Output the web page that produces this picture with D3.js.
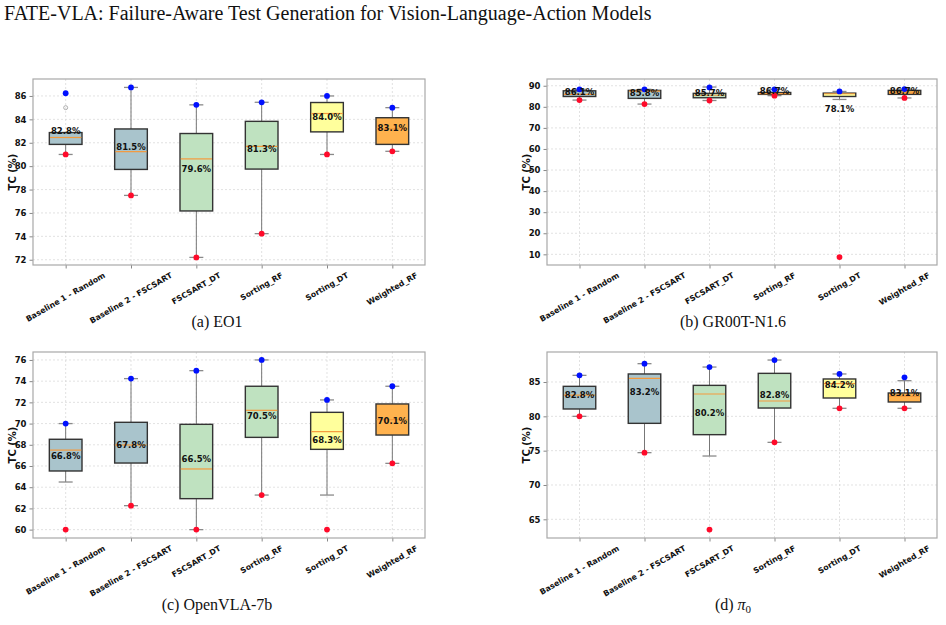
<!DOCTYPE html>
<html>
<head>
<meta charset="utf-8">
<script src="https://cdn.jsdelivr.net/npm/d3@7"></script>
<style>
  body { margin: 0; background: #fff; }
</style>
</head>
<body>
<script>
// categories shared by all four panels
const categories = ["Baseline 1 - Random", "Baseline 2 - FSCSART", "FSCSART_DT", "Sorting_RF", "Sorting_DT", "Weighted_RF"];
const boxColors = ["#a9c4cc", "#a9c4cc", "#bfe2c0", "#bfe2c0", "#ffff9c", "#ffb24e"];

// (a) EO1
const eo1Q1 = [81.86, 79.72, 76.17, 79.75, 82.93, 81.86];
const eo1Med = [82.45, 81.24, 80.62, 81.69, 84.5, 83.2];
const eo1Q3 = [82.87, 83.18, 82.79, 83.83, 85.44, 84.14];
const eo1Lo = [81.0, 77.5, 72.2, 74.23, 81.0, 81.27];
const eo1Hi = [82.87, 86.73, 85.24, 85.46, 86.0, 85.0];
const eo1Mean = [82.8, 81.5, 79.6, 81.3, 84.0, 83.1];
const eo1Max = [86.23, 86.73, 85.24, 85.46, 86.0, 85.0];
const eo1Min = [81.0, 77.5, 72.2, 74.23, 81.0, 81.27];
const eo1Fliers = [[85.0], [], [], [], [], []];
const eo1Ticks = [72, 74, 76, 78, 80, 82, 84, 86];

// (b) GR00T-N1.6
const grootQ1 = [84.9, 84.0, 84.3, 85.9, 84.9, 85.9];
const grootMed = [85.9, 87.4, 85.5, 86.3, 86.2, 86.6];
const grootQ3 = [87.6, 87.8, 86.4, 86.8, 86.5, 87.8];
const grootLo = [83.2, 81.3, 83.0, 85.3, 83.5, 84.2];
const grootHi = [88.3, 88.3, 89.4, 88.3, 87.3, 88.4];
const grootMean = [86.1, 85.8, 85.7, 86.7, 78.1, 86.7];
const grootMax = [88.3, 88.3, 89.2, 88.3, 87.3, 88.4];
const grootMin = [83.2, 81.3, 83.0, 85.3, 8.7, 84.2];
const grootFliers = [[], [], [], [], [], []];
const grootTicks = [10, 20, 30, 40, 50, 60, 70, 80, 90];

// (c) OpenVLA-7b
const vlaQ1 = [65.53, 66.28, 62.92, 68.7, 67.57, 68.92];
const vlaMed = [67.5, 67.98, 65.72, 71.25, 69.24, 70.37];
const vlaQ3 = [68.52, 70.12, 69.93, 73.52, 71.06, 71.85];
const vlaLo = [64.49, 62.26, 60.0, 63.26, 63.26, 66.25];
const vlaHi = [70.0, 74.24, 74.99, 76.0, 72.23, 73.52];
const vlaMean = [66.8, 67.8, 66.5, 70.5, 68.3, 70.1];
const vlaMax = [70.0, 74.24, 74.99, 76.0, 72.23, 73.52];
const vlaMin = [60.0, 62.26, 60.0, 63.26, 60.0, 66.25];
const vlaFliers = [[], [], [], [], [], []];
const vlaTicks = [60, 62, 64, 66, 68, 70, 72, 74, 76];

// (d) pi_0
const pi0Q1 = [81.07, 78.98, 77.33, 81.21, 82.67, 82.09];
const pi0Med = [83.1, 85.53, 83.25, 82.23, 84.76, 82.91];
const pi0Q3 = [84.37, 86.17, 84.51, 86.26, 85.44, 83.4];
const pi0Lo = [80.0, 74.71, 74.22, 76.21, 81.17, 81.17];
const pi0Hi = [85.97, 87.67, 87.18, 88.2, 86.17, 85.19];
const pi0Mean = [82.8, 83.2, 80.2, 82.8, 84.2, 83.1];
const pi0Max = [85.97, 87.67, 87.18, 88.2, 86.17, 85.68];
const pi0Min = [80.0, 74.71, 63.5, 76.21, 81.17, 81.17];
const pi0Fliers = [[], [], [], [], [], []];
const pi0Ticks = [65, 70, 75, 80, 85];

const width = 946, height = 625;

const svg = d3.select("body").append("svg")
    .attr("width", width)
    .attr("height", height)
    .attr("viewBox", [0, 0, width, height])
    .style("font-family", "'DejaVu Sans', sans-serif");

svg.append("text")
    .attr("x", 4)
    .attr("y", 20)
    .style("font-family", "'Liberation Serif', serif")
    .style("font-size", "20px")
    .attr("fill", "#111")
    .text("FATE-VLA: Failure-Aware Test Generation for Vision-Language-Action Models");

function drawPanel(opts) {
  const { left, right, top, bottom, domain, ticks } = opts;
  const rows = categories.map((c, i) => ({
    cat: c, color: boxColors[i],
    q1: opts.q1[i], med: opts.med[i], q3: opts.q3[i],
    lo: opts.lo[i], hi: opts.hi[i], mean: opts.mean[i],
    max: opts.max[i], min: opts.min[i], fliers: opts.fliers[i]
  }));

  const x = d3.scalePoint().domain(categories).range([left, right]).padding(0.5);
  const y = d3.scaleLinear().domain(domain).range([bottom, top]);
  const boxW = x.step() * 0.5;
  const capW = 14;

  const g = svg.append("g");

  // grid
  g.append("g")
      .selectAll("line")
      .data(ticks)
      .join("line")
      .attr("x1", left).attr("x2", right)
      .attr("y1", d => y(d)).attr("y2", d => y(d))
      .attr("stroke", "#d6d6d6").attr("stroke-width", 0.7)
      .attr("stroke-dasharray", "2,2");
  g.append("g")
      .selectAll("line")
      .data(categories)
      .join("line")
      .attr("x1", d => x(d)).attr("x2", d => x(d))
      .attr("y1", top).attr("y2", bottom)
      .attr("stroke", "#d6d6d6").attr("stroke-width", 0.7)
      .attr("stroke-dasharray", "2,2");

  // y axis
  g.append("g")
      .attr("transform", `translate(${left},0)`)
      .call(d3.axisLeft(y).tickValues(ticks).tickSize(3.5).tickPadding(3).tickFormat(d3.format("d")))
      .call(a => a.select(".domain").remove())
      .call(a => a.selectAll(".tick line").attr("stroke", "#888"))
      .call(a => a.selectAll("text")
          .style("font-size", "8.5px").style("font-weight", "bold")
          .style("font-family", "'DejaVu Sans', sans-serif").attr("fill", "#111"));

  // x axis ticks only
  g.append("g")
      .attr("transform", `translate(0,${bottom})`)
      .call(d3.axisBottom(x).tickSize(3.5).tickFormat(""))
      .call(a => a.select(".domain").remove())
      .call(a => a.selectAll(".tick line").attr("stroke", "#888"));

  // rotated tick labels, centred on tick
  const fs = 7.8;
  const lab = g.append("g").selectAll("text")
      .data(categories)
      .join("text")
      .attr("text-anchor", "middle")
      .attr("dominant-baseline", "central")
      .style("font-size", fs + "px")
      .style("font-weight", "bold")
      .attr("fill", "#111")
      .text(d => d);
  lab.each(function(d) {
    const L = this.getComputedTextLength();
    const h = L * Math.sin(Math.PI / 6) + fs * 1.1 * Math.cos(Math.PI / 6);
    d3.select(this).attr("transform", `translate(${x(d)},${bottom + 6 + h / 2}) rotate(-30)`);
  });

  // y label
  g.append("text")
      .attr("transform", `translate(${left - 21},${(top + bottom) / 2}) rotate(-90)`)
      .attr("text-anchor", "middle")
      .attr("dominant-baseline", "central")
      .style("font-size", "10px")
      .style("font-weight", "bold")
      .attr("fill", "#111")
      .text("TC (%)");

  // frame
  g.append("rect")
      .attr("x", left).attr("y", top)
      .attr("width", right - left).attr("height", bottom - top)
      .attr("fill", "none").attr("stroke", "#a8a8a8").attr("stroke-width", 1.2);

  const b = g.append("g").selectAll("g").data(rows).join("g");

  // whiskers
  b.append("line")
      .attr("x1", d => x(d.cat)).attr("x2", d => x(d.cat))
      .attr("y1", d => y(d.q3)).attr("y2", d => y(d.hi))
      .attr("stroke", "#777").attr("stroke-width", 1);
  b.append("line")
      .attr("x1", d => x(d.cat)).attr("x2", d => x(d.cat))
      .attr("y1", d => y(d.q1)).attr("y2", d => y(d.lo))
      .attr("stroke", "#777").attr("stroke-width", 1);
  // caps
  b.selectAll(".cap")
      .data(d => [d.hi, d.lo].map(v => ({ cat: d.cat, v })))
      .join("line")
      .attr("class", "cap")
      .attr("x1", d => x(d.cat) - capW / 2).attr("x2", d => x(d.cat) + capW / 2)
      .attr("y1", d => y(d.v)).attr("y2", d => y(d.v))
      .attr("stroke", "#8a8a8a").attr("stroke-width", 1.3);

  // boxes
  b.append("rect")
      .attr("x", d => x(d.cat) - boxW / 2)
      .attr("width", boxW)
      .attr("y", d => y(d.q3))
      .attr("height", d => y(d.q1) - y(d.q3))
      .attr("fill", d => d.color)
      .attr("stroke", "#333").attr("stroke-width", 1.4);

  // medians
  b.append("line")
      .attr("x1", d => x(d.cat) - boxW / 2 + 0.7).attr("x2", d => x(d.cat) + boxW / 2 - 0.7)
      .attr("y1", d => y(d.med)).attr("y2", d => y(d.med))
      .attr("stroke", "#f59a3c").attr("stroke-width", 1.2);

  // fliers
  b.selectAll(".flier")
      .data(d => d.fliers.map(v => ({ cat: d.cat, v })))
      .join("circle")
      .attr("class", "flier")
      .attr("cx", d => x(d.cat)).attr("cy", d => y(d.v))
      .attr("r", 2)
      .attr("fill", "none").attr("stroke", "#999").attr("stroke-width", 0.8);

  // max / min points
  b.append("circle")
      .attr("cx", d => x(d.cat)).attr("cy", d => y(d.max))
      .attr("r", 2.9).attr("fill", "#0010ff");
  b.append("circle")
      .attr("cx", d => x(d.cat)).attr("cy", d => y(d.min))
      .attr("r", 2.9).attr("fill", "#ff0a2a");

  // mean labels
  b.append("text")
      .attr("x", d => x(d.cat))
      .attr("y", d => y(d.mean) - 2)
      .attr("text-anchor", "middle")
      .attr("dominant-baseline", "central")
      .style("font-size", "8.5px")
      .style("font-weight", "bold")
      .attr("fill", "#111")
      .text(d => d.mean.toFixed(1) + "%");

  // caption
  svg.append("text")
      .attr("x", opts.capX)
      .attr("y", opts.capY)
      .attr("text-anchor", "middle")
      .style("font-family", "'Liberation Serif', serif")
      .style("font-size", "16px")
      .attr("fill", "#111")
      .call(t => {
        if (opts.caption === "pi") {
          t.append("tspan").text("(d) ");
          t.append("tspan").style("font-style", "italic").text("\u03c0");
          t.append("tspan").attr("dy", 3).style("font-size", "11px").text("0");
        } else {
          t.text(opts.caption);
        }
      });
}

drawPanel({ left: 33, right: 425, top: 79, bottom: 265, domain: [71.55, 87.45], ticks: eo1Ticks,
  q1: eo1Q1, med: eo1Med, q3: eo1Q3, lo: eo1Lo, hi: eo1Hi, mean: eo1Mean, max: eo1Max, min: eo1Min, fliers: eo1Fliers,
  caption: "(a) EO1", capX: 217, capY: 327 });

drawPanel({ left: 547, right: 937, top: 79, bottom: 265, domain: [4.94, 93.2], ticks: grootTicks,
  q1: grootQ1, med: grootMed, q3: grootQ3, lo: grootLo, hi: grootHi, mean: grootMean, max: grootMax, min: grootMin, fliers: grootFliers,
  caption: "(b) GR00T-N1.6", capX: 733, capY: 327 });

drawPanel({ left: 33, right: 425, top: 352, bottom: 538, domain: [59.21, 76.75], ticks: vlaTicks,
  q1: vlaQ1, med: vlaMed, q3: vlaQ3, lo: vlaLo, hi: vlaHi, mean: vlaMean, max: vlaMax, min: vlaMin, fliers: vlaFliers,
  caption: "(c) OpenVLA-7b", capX: 217, capY: 610 });

drawPanel({ left: 547, right: 937, top: 352, bottom: 538, domain: [62.28, 89.37], ticks: pi0Ticks,
  q1: pi0Q1, med: pi0Med, q3: pi0Q3, lo: pi0Lo, hi: pi0Hi, mean: pi0Mean, max: pi0Max, min: pi0Min, fliers: pi0Fliers,
  caption: "pi", capX: 733, capY: 610 });
</script>
</body>
</html>
